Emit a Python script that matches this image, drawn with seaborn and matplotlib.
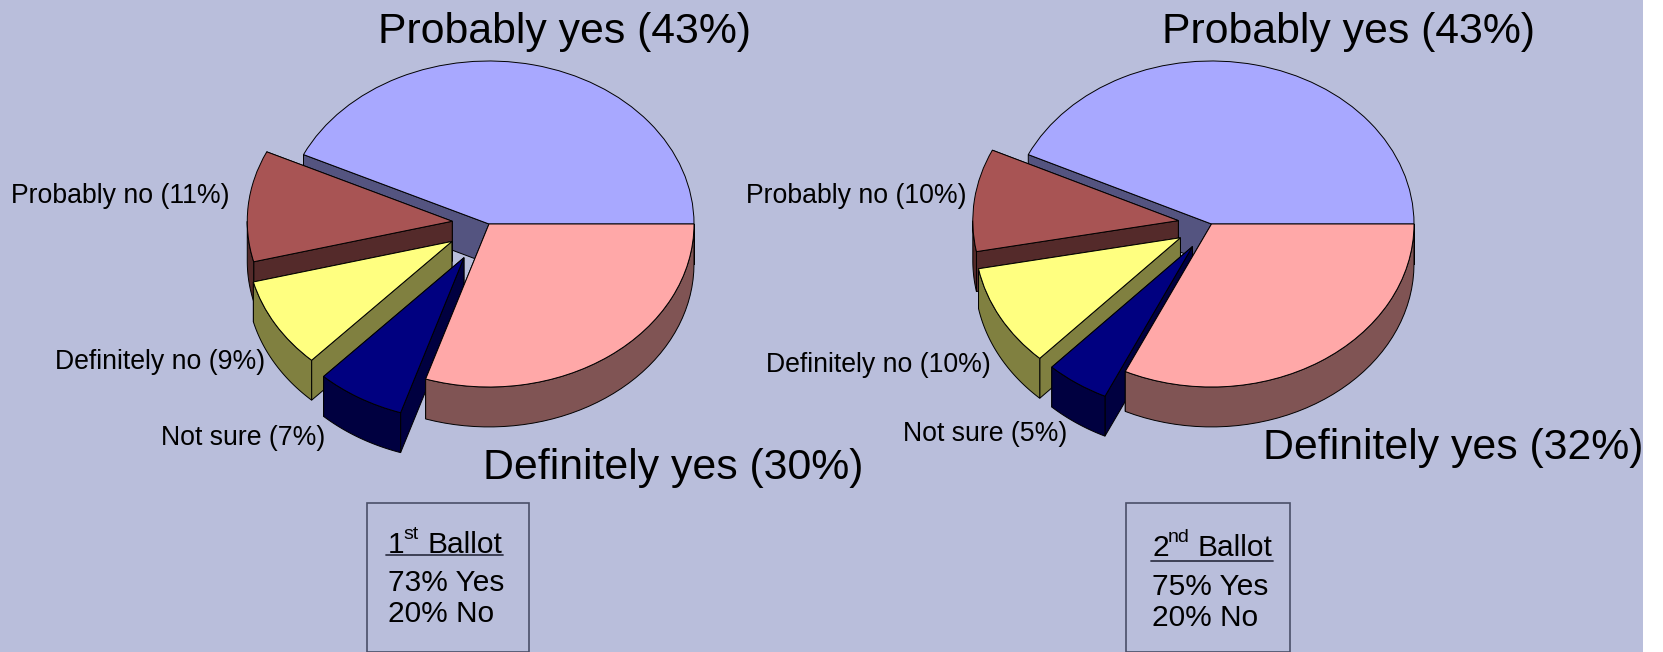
import matplotlib
matplotlib.use('Agg')
import matplotlib.pyplot as plt
from matplotlib.patches import Rectangle
from matplotlib.lines import Line2D
import numpy as np
import seaborn as sns

# Data
answers = ['Probably yes', 'Probably no', 'Definitely no', 'Not sure', 'Definitely yes']
ballot1 = [43, 11, 9, 7, 30]
ballot2 = [43, 10, 10, 5, 32]
ballot1_labels = ['Probably yes (43%)', 'Probably no (11%)', 'Definitely no (9%)', 'Not sure (7%)', 'Definitely yes (30%)']
ballot2_labels = ['Probably yes (43%)', 'Probably no (10%)', 'Definitely no (10%)', 'Not sure (5%)', 'Definitely yes (32%)']
ballot1_totals = ['73% Yes', '20% No']
ballot2_totals = ['75% Yes', '20% No']

W, H = 1663, 652
BG = '#B9BEDB'
DEPTH = 0.245  # height of the "3D" rim, in pie radii
BIG, SMALL, BOX = 30.8, 19.2, 21.5

top_colors = sns.color_palette(['#A8A8FF', '#A85454', '#FFFF80', '#000080', '#FFA8A8'])
side_colors = sns.color_palette(['#545480', '#542A2A', '#808040', '#000040', '#805454'])

sns.set_theme(style='white')
plt.rcParams['font.family'] = ['Liberation Sans', 'DejaVu Sans']

fig = plt.figure(figsize=(W / 100, H / 100), dpi=100, facecolor='white')
fig.add_artist(Rectangle((0, 0), 1643 / W, 1, transform=fig.transFigure, color=BG, lw=0, zorder=-10))


def put_text(x, y, s, size):
    # x, y in image pixels, y measured from the top, baseline anchored
    fig.text(x / W, 1 - y / H, s, fontsize=size, color='black', ha='left', va='baseline', zorder=10)


def draw_side(ax, xs, ys, color, z):
    ax.fill(xs, ys, facecolor=color, edgecolor='black', linewidth=0.7, zorder=z)


def draw_pie(values, explode, cx, cy, rx, ry, pulled_radius=1.0):
    # the axes is stretched so the unit circle lands on the flattened ellipse
    xspan, ylow, yhigh = 1.4, 1.6, 1.2
    ax = fig.add_axes([(cx - xspan * rx) / W, 1 - (cy + ylow * ry) / H,
                       2 * xspan * rx / W, (ylow + yhigh) * ry / H])
    wedges, _ = ax.pie(values, explode=explode, colors=top_colors, startangle=0, counterclock=True,
                       wedgeprops={'edgecolor': 'black', 'linewidth': 0.7})
    ax.set_aspect('auto')
    ax.set_xlim(-xspan, xspan)
    ax.set_ylim(-ylow, yhigh)
    ax.patch.set_alpha(0)
    ax.axis('off')

    # painter's order: back slice first, Definitely yes last
    for z, w in enumerate(wedges):
        if explode[z] > 0:
            w.set_radius(pulled_radius)
        x0, y0 = w.center
        r = w.r
        w.set_zorder(3 * z + 3)
        for a in np.radians([w.theta1, w.theta2]):
            ex, ey = x0 + r * np.cos(a), y0 + r * np.sin(a)
            draw_side(ax, [x0, ex, ex, x0], [y0, ey, ey - DEPTH, y0 - DEPTH], side_colors[z], 3 * z + 1)
        # outer rim only where it faces the viewer
        t1, t2 = max(w.theta1, 180), min(w.theta2, 360)
        if t2 > t1:
            t = np.radians(np.linspace(t1, t2, 40))
            xs = x0 + r * np.cos(t)
            ys = y0 + r * np.sin(t)
            draw_side(ax, np.r_[xs, xs[::-1]], np.r_[ys, ys[::-1] - DEPTH], side_colors[z], 3 * z + 2)
    return ax


def draw_box(x0, x1, top, sup_parts, sup_x, base, rule_x, rule_y, totals, totals_x, totals_y):
    fig.add_artist(Rectangle((x0 / W, 0), (x1 - x0) / W, 1 - top / H, transform=fig.transFigure,
                             facecolor='none', edgecolor='#4A4F68', linewidth=1.2, zorder=9))
    put_text(sup_x[0], base, sup_parts[0], BOX)
    put_text(sup_x[1], base - 14, sup_parts[1], 14)
    put_text(sup_x[2], base, sup_parts[2], BOX)
    fig.add_artist(Line2D([rule_x[0] / W, rule_x[1] / W], [1 - rule_y / H] * 2, transform=fig.transFigure,
                          color='#33364A', linewidth=1.3, zorder=10))
    for s, y in zip(totals, totals_y):
        put_text(totals_x, y, s, BOX)


draw_pie(ballot1, [0, 0.18, 0.21, 0.24, 0], 489, 224, 205, 163)
draw_pie(ballot2, [0, 0.165, 0.175, 0.167, 0], 1211.5, 224, 202.5, 163, pulled_radius=1.015)

# pie labels, big ones for the two main answers
put_text(378.5, 43.5, ballot1_labels[0], BIG)
put_text(10.6, 203, ballot1_labels[1], SMALL)
put_text(55, 369, ballot1_labels[2], SMALL)
put_text(161, 445, ballot1_labels[3], SMALL)
put_text(483, 479, ballot1_labels[4], BIG)

put_text(1162, 43.5, ballot2_labels[0], BIG)
put_text(746, 203, ballot2_labels[1], SMALL)
put_text(766, 372, ballot2_labels[2], SMALL)
put_text(903, 441, ballot2_labels[3], SMALL)
put_text(1263, 459, ballot2_labels[4], BIG)

draw_box(366.6, 529, 502.7, ['1', 'st', 'Ballot'], [388, 403, 427], 553, [386, 503], 555,
         ballot1_totals, 388, [591, 622])
draw_box(1126, 1290, 502.7, ['2', 'nd', 'Ballot'], [1152, 1168, 1197], 556, [1151, 1273], 561,
         ballot2_totals, 1152, [595, 626])

fig.savefig('out.png', dpi=100, facecolor='white')
